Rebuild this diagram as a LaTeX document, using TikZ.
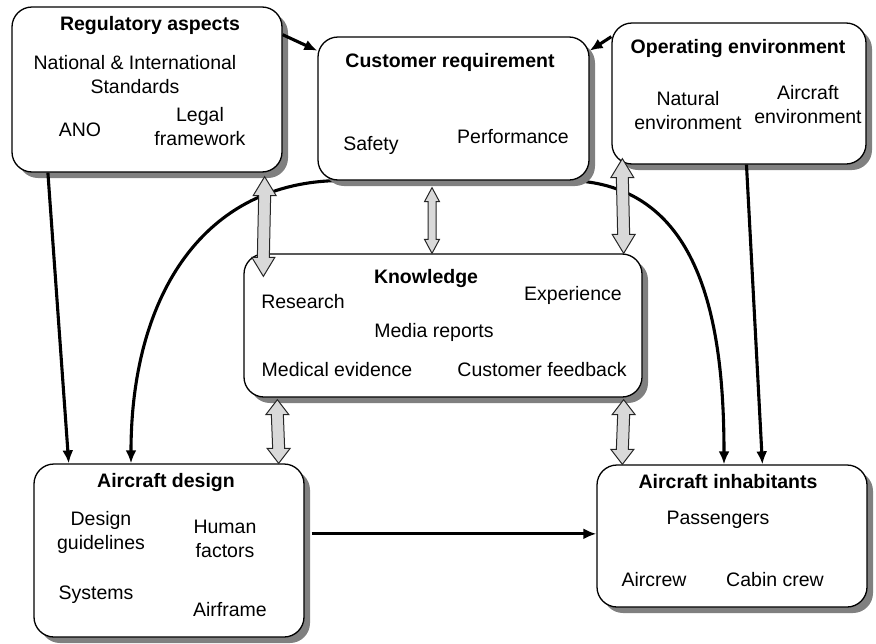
\documentclass[tikz,border=0pt]{standalone}
\usepackage{fontspec}
\setmainfont{Liberation Sans}
\usetikzlibrary{arrows.meta,calc,shadows,backgrounds}

% hollow two-headed arrow: top, bottom, shaft half width, head half width, head length
\newcommand{\dualarrow}[5]{%
  \draw[dualarr] (#1) -- ($(#1)+(#4,#5)$) -- ($(#1)+(#3,#5)$) -- ($(#2)+(#3,-#5)$) -- ($(#2)+(#4,-#5)$) -- (#2)
    -- ($(#2)+(-#4,-#5)$) -- ($(#2)+(-#3,-#5)$) -- ($(#1)+(-#3,#5)$) -- ($(#1)+(-#4,#5)$) -- cycle;}

\begin{document}
\begin{tikzpicture}[x=1pt,y=-1pt,
	every node/.style={font=\fontsize{19.5}{24}\selectfont, inner sep=0.75pt, align=center},
	area/.style={draw, rounded corners=20pt, fill=white, line width=1.3pt,
		drop shadow={shadow xshift=6pt, shadow yshift=-6pt, fill=black!50, opacity=1}},
	title/.style={font=\fontsize{19.5}{24}\selectfont\bfseries},
	flow/.style={line width=3.1pt, -{Latex[length=13pt,width=11pt]}},
	dualarr/.style={draw=black!85, fill=black!15, line width=1pt}]
	\useasboundingbox (0,0) rectangle (876,643);

	% boxes
	\node[area, minimum width=270, minimum height=165] (reg) at (147,89.5) {};
	\node[area, minimum width=271, minimum height=143] (cust) at (453.5,108.5) {};
	\node[area, minimum width=254, minimum height=141] (oper) at (739,93.5) {};
	\node[area, minimum width=398, minimum height=143] (know) at (443,325.5) {};
	\node[area, minimum width=270, minimum height=173] (design) at (169,550.5) {};
	\node[area, minimum width=270, minimum height=142] (inhab) at (732,536) {};

	% texts
	\node[title] (reg-t) at (150,25) {Regulatory aspects};
	\node (standards) at (135,75) {National \& International\\Standards};
	\node (ano) at (80,130) {ANO};
	\node (legal) at (200,127) {Legal\\framework};

	\node[title] (cust-t) at (450,62) {Customer requirement};
	\node (safety) at (371,145) {Safety};
	\node (perf) at (513,137) {Performance};

	\node[title] (oper-t) at (738,48) {Operating environment};
	\node (natural) at (688,111) {Natural\\environment};
	\node (aircraftenv) at (808,105) {Aircraft\\environment};

	\node[title] (know-t) at (426,278) {Knowledge};
	\node (research) at (303,302) {Research};
	\node (experience) at (573,295) {Experience};
	\node (media) at (434,332) {Media reports};
	\node (medical) at (337,370) {Medical evidence};
	\node (feedback) at (542,370) {Customer feedback};

	\node[title] (design-t) at (166,482) {Aircraft design};
	\node (guidelines) at (101,532) {Design\\guidelines};
	\node (human) at (225,539) {Human\\factors};
	\node (systems) at (96,595) {Systems};
	\node (airframe) at (230,610) {Airframe};

	\node[title] (inhab-t) at (728,482) {Aircraft inhabitants};
	\node (passengers) at (718,520) {Passengers};
	\node (aircrew) at (654,580) {Aircrew};
	\node (cabin) at (775,580) {Cabin crew};

	% curved links behind the boxes
	\begin{scope}[on background layer]
		\draw[flow] ($(cust.south west)+(17,0)$) .. controls (200,185) and (131,300) .. (design.north -| 131,0);
		\draw[flow] ($(cust.south east)+(-15,0)$) .. controls (700,188) and (724,320) .. (inhab.north -| 724,0);
	\end{scope}

	% straight links
	\draw[flow] (reg.22) -- (cust.157.4);
	\draw[flow] (oper.156) -- (cust.23.2);
	\draw[flow] (reg.220) -- (design.139);
	\draw[flow] (oper.276.5) -- (inhab.67.8);
	\draw[flow] ($(design.7.4)+(7,0)$) -- (design.7.4 -| inhab.west);

	% two-way exchanges with knowledge
	\dualarrow{$(reg.south east)+(-18,4)$}{$(know.north west)+(20,23)$}{6}{11.5}{19}
	\dualarrow{$(cust.south)+(-21.5,7)$}{$(know.north)+(-11,0)$}{4}{7.5}{14}
	\dualarrow{$(oper.south west)+(11,-6)$}{$(know.north east)+(-19,0)$}{6}{11.5}{19}
	\dualarrow{$(know.south west)+(34,2)$}{$(design.north east)+(-26,0)$}{6}{11.5}{15}
	\dualarrow{$(know.south east)+(-19,2)$}{$(inhab.north west)+(26,0)$}{6}{11.5}{15}
\end{tikzpicture}
\end{document}
